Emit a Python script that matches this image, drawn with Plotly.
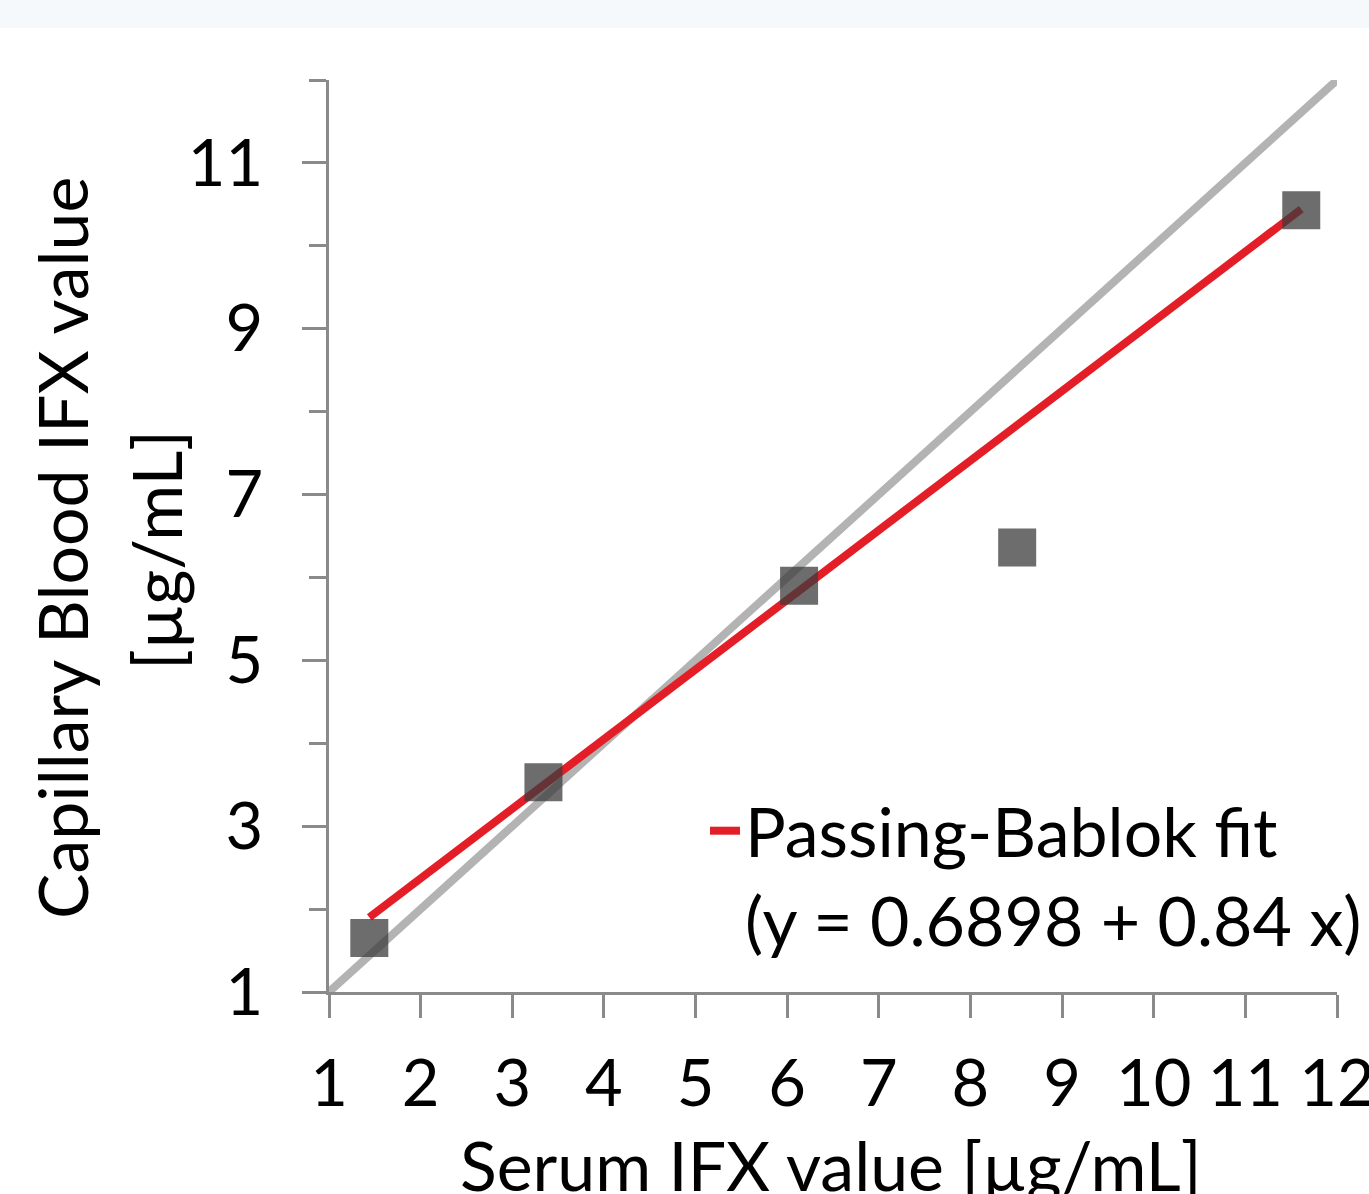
import plotly.graph_objects as go

# Data
serum_ifx = [1.44, 3.34, 6.13, 8.51, 11.61]          # x: Serum IFX value [µg/mL]
capillary_ifx = [1.65, 3.53, 5.90, 6.36, 10.43]      # y: Capillary Blood IFX value [µg/mL]
fit_intercept = 0.6898
fit_slope = 0.84
identity_x = [1, 12]
identity_y = [1, 12]
x_ticks = [1, 2, 3, 4, 5, 6, 7, 8, 9, 10, 11, 12]
y_major_ticks = [1, 3, 5, 7, 9, 11]
y_minor_ticks = [2, 4, 6, 8, 10, 12]

FONT = "Lato"
FS = 68
TFS = 65
AXIS_COLOR = "#8a8a8a"

fit_x = [min(serum_ifx), max(serum_ifx)]
fit_y = [fit_intercept + fit_slope * v for v in fit_x]

fig = go.Figure()

fig.add_trace(go.Scatter(
    x=identity_x, y=identity_y, mode="lines",
    line=dict(color="#b3b3b3", width=8),
    showlegend=False, hoverinfo="skip",
))
fig.add_trace(go.Scatter(
    x=fit_x, y=fit_y, mode="lines",
    line=dict(color="#e41e26", width=8),
    name="Passing-Bablok fit<br>(y = 0.6898 + 0.84 x)",
    showlegend=True,
))
fig.add_trace(go.Scatter(
    x=serum_ifx, y=capillary_ifx, mode="markers",
    marker=dict(symbol="square", size=38, color="rgba(60,60,60,0.75)", line=dict(width=0)),
    showlegend=False,
))

W, H = 1369, 1194
L, R, T, B = 329, 32, 80, 202
pw, ph = W - L - R, H - T - B

def px(xpix):
    return (xpix - L) / pw

def py(ypix):
    return (H - B - ypix) / ph

fig.update_layout(
    width=W, height=H,
    margin=dict(l=L, r=R, t=T, b=B, pad=0, autoexpand=False),
    paper_bgcolor="white", plot_bgcolor="white",
    font=dict(family=FONT, size=FS, color="black"),
    xaxis=dict(
        range=[1, 12], tickvals=x_ticks, ticks="outside", ticklen=23, tickwidth=2.5,
        tickcolor=AXIS_COLOR, showline=True, linecolor=AXIS_COLOR, linewidth=2.5,
        showgrid=False, zeroline=False, ticklabelstandoff=10, ticklabeloverflow="allow",
        automargin=False,
        tickfont=dict(family=FONT, size=TFS, color="black"),
    ),
    yaxis=dict(
        range=[1, 12], tickvals=y_major_ticks, ticks="outside", ticklen=24, tickwidth=2.5,
        tickcolor=AXIS_COLOR, showline=True, linecolor=AXIS_COLOR, linewidth=2.5,
        showgrid=False, zeroline=False, ticklabelstandoff=26, ticklabeloverflow="allow",
        automargin=False,
        tickfont=dict(family=FONT, size=TFS, color="black"),
        minor=dict(tickvals=y_minor_ticks, ticks="outside", ticklen=17, tickwidth=2.5,
                   tickcolor=AXIS_COLOR, showgrid=False),
    ),
    legend=dict(
        x=px(705), y=py(780), xanchor="left", yanchor="top",
        bgcolor="rgba(0,0,0,0)", font=dict(family=FONT, size=FS, color="black"),
        valign="top", itemwidth=30,
    ),
    shapes=[dict(
        type="rect", xref="paper", yref="paper",
        x0=px(-5), x1=px(W + 5), y0=py(28), y1=py(-5),
        fillcolor="#f5f9fc", line=dict(width=0), layer="below",
    )],
    annotations=[
        dict(text="Serum IFX value [µg/mL]", xref="paper", yref="paper",
             x=px(831), y=py(1122), xanchor="center", yanchor="top",
             showarrow=False, font=dict(family=FONT, size=FS, color="black")),
        dict(text="Capillary Blood IFX value", xref="paper", yref="paper",
             x=px(61), y=py(548), xanchor="center", yanchor="middle", textangle=-90,
             showarrow=False, font=dict(family=FONT, size=FS, color="black")),
        dict(text="[µg/mL]", xref="paper", yref="paper",
             x=px(155), y=py(550), xanchor="center", yanchor="middle", textangle=-90,
             showarrow=False, font=dict(family=FONT, size=FS, color="black")),
    ],
)

fig.write_html(
    "out.html",
    config={"displayModeBar": False},
    post_script="document.body.style.margin='0';document.body.style.overflow='hidden';",
)
